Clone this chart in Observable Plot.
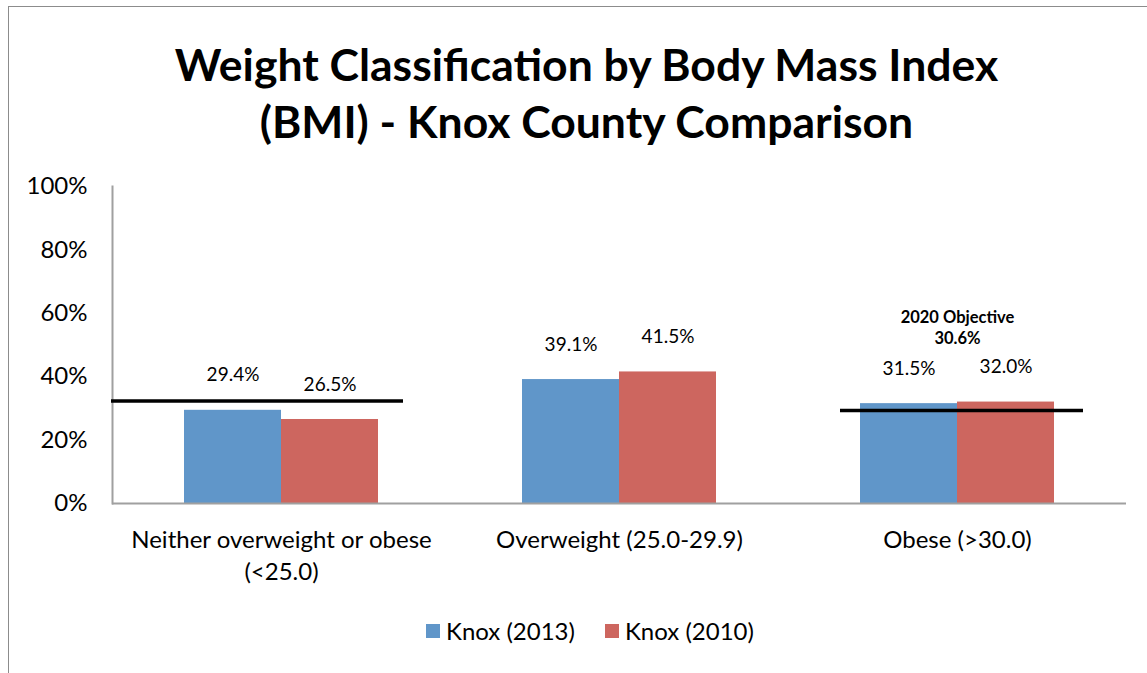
<!DOCTYPE html>
<html><head><meta charset="utf-8">
<script src="https://cdn.jsdelivr.net/npm/d3@7"></script>
<script src="https://cdn.jsdelivr.net/npm/@observablehq/plot@0.6"></script>
<style>
body{margin:0;background:#fff;font-family:Lato,"Open Sans",sans-serif;}
#page{position:relative;width:1147px;height:673px;overflow:hidden;background:#fff;}
#frame{position:absolute;left:8px;top:6px;width:1300px;height:800px;border:1px solid #8c8c8c;}
#title{position:absolute;left:8px;width:1157px;top:35px;text-align:center;font-weight:700;font-size:44.5px;line-height:57px;color:#000;}
#chart{position:absolute;left:0;top:150px;}
#legend{position:absolute;left:426px;top:616px;display:flex;align-items:center;font-size:24px;color:#000;}
#legend .item{display:flex;align-items:center;margin-right:30px;}
#legend .sw{width:14px;height:14px;margin-right:6px;}
</style></head>
<body>
<div id="page">
  <div id="frame"></div>
  <div id="title">Weight Classification by Body Mass Index<br>(BMI) - Knox County Comparison</div>
  <div id="chart"></div>
  <div id="legend"></div>
</div>
<script>
const categories = ["Neither overweight or obese\n(<25.0)", "Overweight (25.0-29.9)", "Obese (>30.0)"];
const series = ["Knox (2013)", "Knox (2010)"];
const values2013 = [29.4, 39.1, 31.5];
const values2010 = [26.5, 41.5, 32.0];
const objectiveValues = [32.3, null, 29.3];
const objectiveLabels = [null, null, "2020 Objective\n30.6%"];
const yTicks = [0, 20, 40, 60, 80, 100];
const colors = ["#6096c9", "#cd665f"];

const rows = [];
categories.forEach((c, i) => {
  rows.push({cat: c, series: series[0], value: values2013[i]});
  rows.push({cat: c, series: series[1], value: values2010[i]});
});
const objA = [{cat: categories[0], value: objectiveValues[0]}];
const objC = [{cat: categories[2], value: objectiveValues[2], label: objectiveLabels[2]}];

const chart = Plot.plot({
  width: 1147, height: 440,
  marginTop: 36, marginBottom: 87, marginLeft: 112, marginRight: 21,
  style: {fontFamily: "Lato, sans-serif", color: "#000", background: "transparent", overflow: "visible"},
  fx: {domain: categories, padding: 0, label: null},
  x: {domain: series, paddingInner: 0, paddingOuter: 0.742, axis: null},
  y: {domain: [0, 100], label: null},
  color: {domain: series, range: colors},
  marks: [
    Plot.barY(rows, {fx: "cat", x: "series", y: "value", fill: "series"}),
    Plot.ruleY([0], {stroke: "#a0a0a0", strokeWidth: 2}),
    Plot.frame({anchor: "left", stroke: "#a0a0a0", strokeWidth: 2, facetAnchor: "left"}),
    Plot.axisY({ticks: yTicks, tickFormat: d => d + "%", tickSize: 0, tickPadding: 25, fontSize: 24, label: null}),
    Plot.axisFx({anchor: "bottom", tickSize: 0, tickPadding: 22, fontSize: 24, lineHeight: 1.33, label: null}),
    Plot.text(rows, {fx: "cat", x: "series", y: "value", text: d => d.value.toFixed(1) + "%", dy: -35, fontSize: 19}),
    Plot.ruleY(objA, {fx: "cat", y: "value", x1: () => series[0], x2: () => series[1], stroke: "#000", strokeWidth: 3.5, insetLeft: -73, insetRight: -25}),
    Plot.ruleY(objC, {fx: "cat", y: "value", x1: () => series[0], x2: () => series[1], stroke: "#000", strokeWidth: 3.5, insetLeft: -20, insetRight: -29}),
    Plot.text(objC, {fx: "cat", y: "value", text: "label", dy: -84, fontSize: 16.5, fontWeight: "bold", lineHeight: 1.25})
  ]
});
document.getElementById("chart").appendChild(chart);

const legend = document.getElementById("legend");
series.forEach((s, i) => {
  const item = document.createElement("div");
  item.className = "item";
  const sw = document.createElement("div");
  sw.className = "sw";
  sw.style.background = colors[i];
  const t = document.createElement("span");
  t.textContent = s;
  item.appendChild(sw); item.appendChild(t);
  legend.appendChild(item);
});
</script>
</body></html>
